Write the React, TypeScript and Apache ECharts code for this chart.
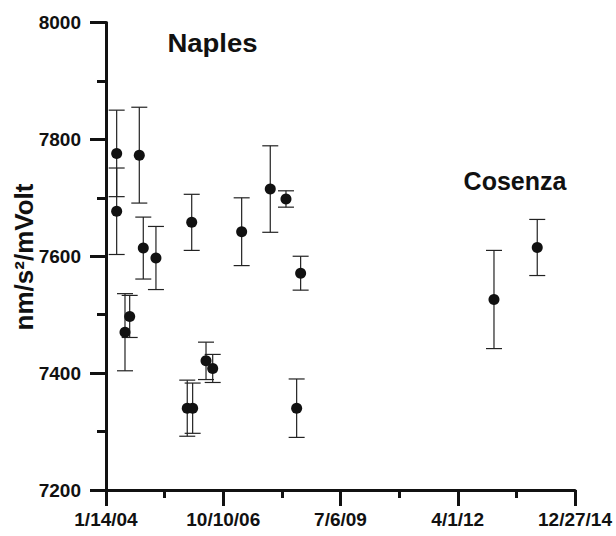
import React, { useEffect, useRef } from "react";
import * as echarts from "echarts";

// ---- axis definitions ----
const AXIS_START = "2004-01-14";
const X_TICK_STEP_DAYS = 1000;
const X_MAX_DAYS = 4000;
const Y_MIN = 7200;
const Y_MAX = 8000;
const Y_STEP = 200;

// ---- Naples data ----
const naplesDates = [
  "2004-04-14", "2004-04-14", "2004-06-24", "2004-08-03", "2004-10-24",
  "2004-11-27", "2005-03-15", "2005-12-07", "2006-01-14", "2006-01-22",
  "2006-05-16", "2006-07-12", "2007-03-16", "2007-11-15", "2008-03-28",
  "2008-06-27", "2008-07-31",
];
const naplesValues = [
  7776, 7677, 7470, 7497, 7773,
  7614, 7597, 7340, 7658, 7340,
  7421, 7408, 7642, 7715, 7698,
  7340, 7571,
];
const naplesErrors = [
  74, 74, 66, 36, 82,
  53, 54, 48, 48, 43,
  32, 24, 58, 74, 14,
  50, 29,
];

// ---- Cosenza data ----
const cosenzaDates = ["2013-02-04", "2014-02-08"];
const cosenzaValues = [7526, 7615];
const cosenzaErrors = [84, 48];

const DAY_MS = 86400000;
const startMs = Date.parse(AXIS_START);
const toDays = (d: string) => (Date.parse(d) - startMs) / DAY_MS;
const fmtDate = (days: number) => {
  const d = new Date(startMs + days * DAY_MS);
  return `${d.getUTCMonth() + 1}/${d.getUTCDate()}/${String(d.getUTCFullYear()).slice(2)}`;
};

const allDates = [...naplesDates, ...cosenzaDates];
const allValues = [...naplesValues, ...cosenzaValues];
const allErrors = [...naplesErrors, ...cosenzaErrors];

const points = allDates.map((d, i) => [toDays(d), allValues[i]]);
const errBars = allDates.map((d, i) => [toDays(d), allValues[i] - allErrors[i], allValues[i] + allErrors[i]]);

const INK = "#111";
const FONT = "Liberation Sans, Arial, sans-serif";

export default function App() {
  const ref = useRef<HTMLDivElement>(null);
  useEffect(() => {
    if (!ref.current) return;
    const chart = echarts.init(ref.current, undefined, { renderer: "svg" });
    const barStyle = { stroke: "#222", lineWidth: 1.2 };
    chart.setOption({
      animation: false,
      backgroundColor: "#fff",
      grid: { left: 106, right: 41, top: 22.5, bottom: 46, containLabel: false, outerBoundsMode: "none" },
      xAxis: {
        type: "value",
        min: 0,
        max: X_MAX_DAYS,
        interval: X_TICK_STEP_DAYS,
        axisLine: { show: true, lineStyle: { color: INK, width: 3 } },
        axisTick: { show: true, length: 16, lineStyle: { color: INK, width: 3 } },
        minorTick: { show: true, splitNumber: 2, length: 8, lineStyle: { color: INK, width: 3 } },
        splitLine: { show: false },
        minorSplitLine: { show: false },
        axisLabel: {
          formatter: (v: number) => fmtDate(v),
          color: INK,
          fontFamily: FONT,
          fontWeight: "bold",
          fontSize: 19,
          margin: 20,
          showMinLabel: true,
          showMaxLabel: true,
        },
      },
      yAxis: {
        type: "value",
        min: Y_MIN,
        max: Y_MAX,
        interval: Y_STEP,
        axisLine: { show: true, lineStyle: { color: INK, width: 3 } },
        axisTick: { show: true, length: 16, lineStyle: { color: INK, width: 3 } },
        minorTick: { show: true, splitNumber: 2, length: 9, lineStyle: { color: INK, width: 3 } },
        splitLine: { show: false },
        minorSplitLine: { show: false },
        axisLabel: {
          formatter: (v: number) => String(v),
          color: INK,
          fontFamily: FONT,
          fontWeight: "bold",
          fontSize: 19,
          margin: 25,
        },
      },
      graphic: [
        {
          type: "text",
          x: 24,
          y: 257,
          rotation: Math.PI / 2,
          style: {
            text: "nm/s²/mVolt",
            fill: INK,
            font: `bold 26px ${FONT}`,
            align: "center",
            verticalAlign: "middle",
          },
        },
        {
          type: "text",
          x: 212.5,
          y: 43.5,
          scaleX: 1.1,
          style: {
            text: "Naples",
            fill: INK,
            font: `bold 25px ${FONT}`,
            align: "center",
            verticalAlign: "middle",
          },
        },
        {
          type: "text",
          x: 515,
          y: 181,
          style: {
            text: "Cosenza",
            fill: INK,
            font: `bold 25px ${FONT}`,
            align: "center",
            verticalAlign: "middle",
          },
        },
      ],
      series: [
        {
          type: "custom",
          data: errBars,
          encode: { x: 0, y: [1, 2] },
          renderItem: (_params: any, api: any) => {
            const x = api.value(0);
            const lo = api.coord([x, api.value(1)]);
            const hi = api.coord([x, api.value(2)]);
            const hw = 8;
            return {
              type: "group",
              children: [
                { type: "line", shape: { x1: lo[0], y1: lo[1], x2: hi[0], y2: hi[1] }, style: barStyle },
                { type: "line", shape: { x1: hi[0] - hw, y1: hi[1], x2: hi[0] + hw, y2: hi[1] }, style: barStyle },
                { type: "line", shape: { x1: lo[0] - hw, y1: lo[1], x2: lo[0] + hw, y2: lo[1] }, style: barStyle },
              ],
            };
          },
          z: 2,
        },
        {
          type: "scatter",
          data: points,
          symbol: "circle",
          symbolSize: 11,
          itemStyle: { color: INK, opacity: 1 },
          z: 3,
        },
      ],
    });
    return () => chart.dispose();
  }, []);
  return (
    <div
      ref={ref}
      style={{ position: "absolute", left: 0, top: 0, width: 616, height: 536 }}
    />
  );
}
